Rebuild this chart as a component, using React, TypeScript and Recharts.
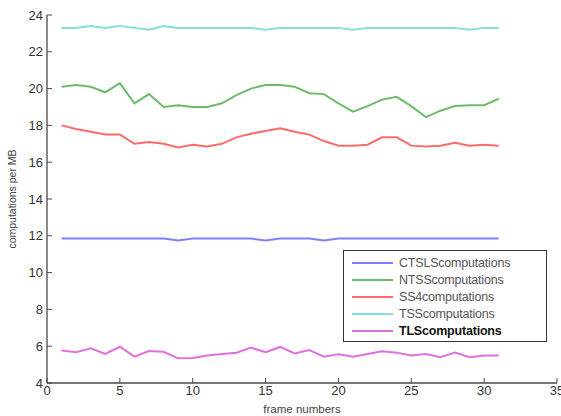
import { LineChart, Line, XAxis, YAxis, Legend, Label } from "recharts";

const frames = [1, 2, 3, 4, 5, 6, 7, 8, 9, 10, 11, 12, 13, 14, 15, 16, 17, 18, 19, 20, 21, 22, 23, 24, 25, 26, 27, 28, 29, 30, 31];

const ctslsValues = [11.85, 11.85, 11.85, 11.85, 11.85, 11.85, 11.85, 11.85, 11.75, 11.85, 11.85, 11.85, 11.85, 11.85, 11.75, 11.85, 11.85, 11.85, 11.75, 11.85, 11.85, 11.85, 11.85, 11.85, 11.85, 11.85, 11.85, 11.85, 11.85, 11.85, 11.85];
const ntssValues = [20.1, 20.2, 20.1, 19.8, 20.3, 19.2, 19.7, 19.0, 19.1, 19.0, 19.0, 19.2, 19.65, 20.0, 20.2, 20.2, 20.1, 19.75, 19.7, 19.2, 18.75, 19.05, 19.4, 19.55, 19.05, 18.45, 18.8, 19.05, 19.1, 19.1, 19.45];
const ss4Values = [18.0, 17.8, 17.65, 17.5, 17.5, 17.0, 17.1, 17.0, 16.8, 16.95, 16.85, 17.0, 17.35, 17.55, 17.7, 17.85, 17.65, 17.5, 17.15, 16.9, 16.9, 16.95, 17.35, 17.35, 16.9, 16.85, 16.9, 17.05, 16.9, 16.95, 16.9];
const tssValues = [23.3, 23.3, 23.4, 23.3, 23.4, 23.3, 23.2, 23.4, 23.3, 23.3, 23.3, 23.3, 23.3, 23.3, 23.2, 23.3, 23.3, 23.3, 23.3, 23.3, 23.2, 23.3, 23.3, 23.3, 23.3, 23.3, 23.3, 23.3, 23.2, 23.3, 23.3];
const tlsValues = [5.76, 5.67, 5.89, 5.58, 5.97, 5.43, 5.74, 5.7, 5.34, 5.36, 5.5, 5.58, 5.65, 5.92, 5.67, 5.96, 5.61, 5.79, 5.43, 5.56, 5.43, 5.58, 5.72, 5.65, 5.5, 5.58, 5.4, 5.65, 5.4, 5.5, 5.5];

const seriesNames = ["CTSLScomputations", "NTSScomputations", "SS4computations", "TSScomputations", "TLScomputations"];

const xTicks = [0, 5, 10, 15, 20, 25, 30, 35];
const yTicks = [4, 6, 8, 10, 12, 14, 16, 18, 20, 22, 24];

const chartData = frames.map((frame, i) => ({
  frame,
  ctsls: ctslsValues[i],
  ntss: ntssValues[i],
  ss4: ss4Values[i],
  tss: tssValues[i],
  tls: tlsValues[i],
}));

const FONT = "'Liberation Sans', Arial, sans-serif";
const AXIS = "#4a4a4a";
const TICK = 5;

const BottomTick = ({ x, y, payload }: any) => (
  <g>
    <line x1={x} y1={y} x2={x} y2={y - TICK} stroke={AXIS} />
    <text x={x} y={y + 3} dy="0.71em" textAnchor="middle" fontSize={13} fill="#333" fontFamily={FONT}>
      {payload.value}
    </text>
  </g>
);

const LeftTick = ({ x, y, payload }: any) => (
  <g>
    <line x1={x} y1={y} x2={x + TICK} y2={y} stroke={AXIS} />
    <text x={x - 4} y={y} dy="0.355em" textAnchor="end" fontSize={13} fill="#333" fontFamily={FONT}>
      {payload.value}
    </text>
  </g>
);

const TopTick = ({ x, y }: any) => <line x1={x} y1={y} x2={x} y2={y + TICK} stroke={AXIS} />;
const RightTick = ({ x, y }: any) => <line x1={x} y1={y} x2={x - TICK} y2={y} stroke={AXIS} />;

const renderLegend = ({ payload }: any) => {
  // keep the plotting order, not alphabetical
  const items = [...(payload || [])].sort((a: any, b: any) => seriesNames.indexOf(a.value) - seriesNames.indexOf(b.value));
  return (
    <div
      style={{
        width: 204,
        height: 92,
        boxSizing: "border-box",
        border: "1.5px solid #333",
        background: "#fff",
        paddingTop: 3,
        fontFamily: FONT,
      }}
    >
      {items.map((entry: any, i: number) => {
        const last = i === items.length - 1;
        return (
          <div key={entry.value} style={{ display: "flex", alignItems: "center", height: 17 }}>
            <div style={{ width: 41, height: 2, background: entry.color, marginLeft: 8, marginRight: 6 }} />
            <span
              style={{
                fontSize: 12.5,
                color: last ? "#111" : "#555",
                fontWeight: last ? 600 : 400,
                letterSpacing: -0.2,
              }}
            >
              {entry.value}
            </span>
          </div>
        );
      })}
    </div>
  );
};

export default function App() {
  return (
    <div style={{ position: "absolute", left: 0, top: 0, background: "#fff" }}>
      <LineChart width={561} height={416} data={chartData} margin={{ top: 15, right: 4, left: 0, bottom: 0 }}>
        <XAxis
          dataKey="frame"
          type="number"
          domain={[0, 35]}
          ticks={xTicks}
          interval={0}
          height={33}
          tickSize={0}
          tickMargin={0}
          tick={<BottomTick />}
          axisLine={{ stroke: AXIS, strokeWidth: 1.3 }}
        >
          <Label
            content={() => (
              <text x={302} y={409} dy="0.355em" textAnchor="middle" fontSize={11.5} fill="#444" fontFamily={FONT}>
                frame numbers
              </text>
            )}
          />
        </XAxis>
        <XAxis
          xAxisId="top"
          orientation="top"
          type="number"
          domain={[0, 35]}
          ticks={xTicks}
          interval={0}
          height={0}
          tickSize={0}
          tick={<TopTick />}
          axisLine={{ stroke: AXIS, strokeWidth: 1.3 }}
          allowDataOverflow
        />
        <YAxis
          type="number"
          domain={[4, 24]}
          ticks={yTicks}
          interval={0}
          width={47}
          tickSize={0}
          tickMargin={0}
          tick={<LeftTick />}
          axisLine={{ stroke: AXIS, strokeWidth: 1.3 }}
        >
          <Label
            content={() => (
              <text
                x={12}
                y={199}
                dy="0.355em"
                textAnchor="middle"
                fontSize={10.5}
                fill="#444"
                fontFamily={FONT}
                transform="rotate(-90 12 199)"
              >
                computations per MB
              </text>
            )}
          />
        </YAxis>
        <YAxis
          yAxisId="right"
          orientation="right"
          type="number"
          domain={[4, 24]}
          ticks={yTicks}
          interval={0}
          width={0}
          tickSize={0}
          tick={<RightTick />}
          axisLine={{ stroke: AXIS, strokeWidth: 1.3 }}
          allowDataOverflow
        />
        <Legend
          layout="vertical"
          align="center"
          verticalAlign="middle"
          wrapperStyle={{ left: 343, top: 250, width: 204 }}
          content={renderLegend}
        />
        <Line type="linear" dataKey="ctsls" name="CTSLScomputations" stroke="#8080ff" strokeWidth={2} dot={false} isAnimationActive={false} />
        <Line type="linear" dataKey="ntss" name="NTSScomputations" stroke="#6cbb6c" strokeWidth={2} dot={false} isAnimationActive={false} />
        <Line type="linear" dataKey="ss4" name="SS4computations" stroke="#ff6b6b" strokeWidth={2} dot={false} isAnimationActive={false} />
        <Line type="linear" dataKey="tss" name="TSScomputations" stroke="#86dede" strokeWidth={2} dot={false} isAnimationActive={false} />
        <Line type="linear" dataKey="tls" name="TLScomputations" stroke="#e070e0" strokeWidth={2} dot={false} isAnimationActive={false} />
      </LineChart>
    </div>
  );
}
